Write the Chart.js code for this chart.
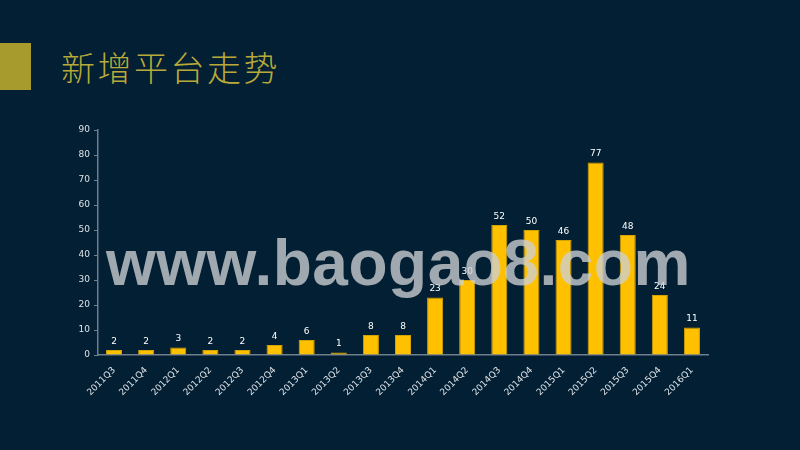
<!DOCTYPE html>
<html>
<head>
<meta charset="utf-8">
<script src="https://cdn.jsdelivr.net/npm/chart.js@4"></script>
<style>
  html, body { margin: 0; padding: 0; background: #021f33; }
  #wrap { position: relative; width: 800px; height: 450px; overflow: hidden; background: #021f33; }
  #bar { position: absolute; left: 0; top: 43px; width: 31px; height: 47px; background: #a69b2c; }
  #title { position: absolute; left: 61px; top: 44px; font-family: "Noto Sans CJK SC", sans-serif; font-weight: 300;
           font-size: 34px; line-height: 46px; color: #b8aa3a; letter-spacing: 2.5px; }
  #mark { position: absolute; left: 106px; top: 228px; font-family: "Liberation Sans", Arial, sans-serif; font-weight: bold;
          font-size: 64px; line-height: 70px; color: rgba(205, 207, 211, 0.78); letter-spacing: 0.5px; pointer-events: none; }
  canvas { position: absolute; left: 0; top: 0; }
</style>
</head>
<body>
<div id="wrap">
  <div id="bar"></div>
  <div id="title">新增平台走势</div>
  <canvas id="platformChart" width="800" height="450"></canvas>
  <div id="mark">www.baogao8.com</div>
</div>
<script>
const quarters = ['2011Q3', '2011Q4', '2012Q1', '2012Q2', '2012Q3', '2012Q4', '2013Q1', '2013Q2', '2013Q3', '2013Q4',
  '2014Q1', '2014Q2', '2014Q3', '2014Q4', '2015Q1', '2015Q2', '2015Q3', '2015Q4', '2016Q1'];
const newPlatforms = [2, 2, 3, 2, 2, 4, 6, 1, 8, 8, 23, 30, 52, 50, 46, 77, 48, 24, 11];

const valueLabels = {
  id: 'valueLabels',
  afterDatasetsDraw(chart) {
    const { ctx } = chart;
    const meta = chart.getDatasetMeta(0);
    ctx.save();
    ctx.fillStyle = '#ffffff';
    ctx.font = '9px "DejaVu Sans", sans-serif';
    ctx.textAlign = 'center';
    ctx.textBaseline = 'bottom';
    meta.data.forEach((bar, i) => {
      ctx.fillText(String(newPlatforms[i]), bar.x, bar.y - 4);
    });
    ctx.restore();
  },
};

const ctx = document.getElementById('platformChart').getContext('2d');
const platformChart = new Chart(ctx, {
  type: 'bar',
  data: {
    labels: quarters,
    datasets: [
      {
        data: newPlatforms,
        backgroundColor: '#ffc000',
        borderColor: '#d4a300',
        borderWidth: 1,
        barPercentage: 0.5,
        categoryPercentage: 1,
      },
    ],
  },
  options: {
    responsive: false,
    animation: false,
    layout: { padding: { left: 68, right: 92, top: 130, bottom: 45 } },
    plugins: { legend: { display: false }, tooltip: { enabled: false } },
    scales: {
      x: {
        grid: { display: false },
        border: { display: true, color: '#6f7f8e', width: 1.5 },
        ticks: {
          color: '#dfe3e7',
          font: { size: 9, family: '"DejaVu Sans", sans-serif' },
          minRotation: 45,
          maxRotation: 45,
          padding: 2,
        },
        afterFit: (s) => { s.height = 50; },
      },
      y: {
        min: 0,
        max: 90,
        ticks: {
          stepSize: 10,
          color: '#dfe3e7',
          font: { size: 9, family: '"DejaVu Sans", sans-serif' },
          padding: 4,
        },
        grid: { drawOnChartArea: false, drawTicks: true, tickLength: 4, color: '#6f7f8e' },
        border: { display: true, color: '#6f7f8e', width: 1.5 },
        afterFit: (s) => { s.width = 30; },
      },
    },
  },
  plugins: [valueLabels],
});
</script>
</body>
</html>
